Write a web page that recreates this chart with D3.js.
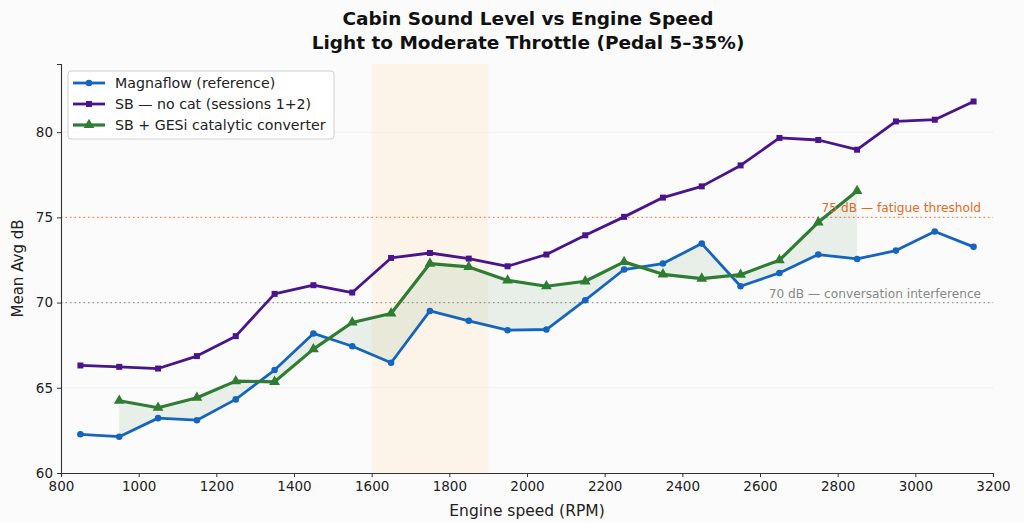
<!DOCTYPE html>
<html>
<head>
<meta charset="utf-8">
<script src="https://cdn.jsdelivr.net/npm/d3@7"></script>
<style>
  body { margin: 0; background: #fbfbfb; }
  svg { display: block; font-family: "DejaVu Sans", sans-serif; }
</style>
</head>
<body>
<div id="chart"></div>
<script>
// engine speed bins (RPM)
const rpmAll = [850, 950, 1050, 1150, 1250, 1350, 1450, 1550, 1650, 1750, 1850, 1950,
    2050, 2150, 2250, 2350, 2450, 2550, 2650, 2750, 2850, 2950, 3050, 3150];
const rpmGesi = [950, 1050, 1150, 1250, 1350, 1450, 1550, 1650, 1750, 1850, 1950,
    2050, 2150, 2250, 2350, 2450, 2550, 2650, 2750, 2850];

const magnaflow = [62.27, 62.13, 63.22, 63.1, 64.32, 66.04, 68.19, 67.44, 66.47, 69.51, 68.93, 68.38,
    68.42, 70.14, 71.94, 72.29, 73.46, 70.96, 71.74, 72.82, 72.56, 73.05, 74.17, 73.27];
const sbNoCat = [66.31, 66.23, 66.13, 66.86, 68.03, 70.51, 71.02, 70.59, 72.62, 72.91, 72.58, 72.13,
    72.82, 73.95, 75.03, 76.16, 76.82, 78.05, 79.66, 79.54, 78.97, 80.63, 80.73, 81.8];
const sbGesi = [64.24, 63.83, 64.42, 65.39, 65.35, 67.27, 68.83, 69.36, 72.29, 72.09, 71.3,
    70.96, 71.25, 72.39, 71.66, 71.41, 71.64, 72.49, 74.71, 76.55];

const xTicks = [800, 1000, 1200, 1400, 1600, 1800, 2000, 2200, 2400, 2600, 2800, 3000, 3200];
const yTicks = [60, 65, 70, 75, 80];
const band = [1600, 1900];
const thresholds = [
    {value: 75, label: "75 dB — fatigue threshold", color: "#e8691e", lineColor: "#f08a4b"},
    {value: 70, label: "70 dB — conversation interference", color: "#888888", lineColor: "#999999"}
];

const W = 1024, H = 523;
const margin = {top: 64, right: 31, bottom: 50, left: 61};
const width = W - margin.left - margin.right;
const height = H - margin.top - margin.bottom;

const svg = d3.select("#chart").append("svg")
    .attr("width", W)
    .attr("height", H);

svg.append("rect").attr("width", W).attr("height", H).attr("fill", "#fbfbfb");

const g = svg.append("g")
    .attr("transform", `translate(${margin.left},${margin.top})`);

const x = d3.scaleLinear().domain([800, 3200]).range([0, width]);
const y = d3.scaleLinear().domain([60, 84]).range([height, 0]);

// light horizontal grid
g.selectAll(".grid")
    .data(yTicks.filter(t => t > 60))
    .enter().append("line")
    .attr("x1", 0).attr("x2", width)
    .attr("y1", d => y(d)).attr("y2", d => y(d))
    .attr("stroke", "#ebebeb")
    .attr("stroke-width", 0.8);

// highlighted rpm band
g.append("rect")
    .attr("x", x(band[0]))
    .attr("y", 0)
    .attr("width", x(band[1]) - x(band[0]))
    .attr("height", height)
    .attr("fill", "#ffe8c8")
    .attr("opacity", 0.35);

// threshold lines
thresholds.forEach(t => {
    g.append("line")
        .attr("x1", 0).attr("x2", width)
        .attr("y1", y(t.value)).attr("y2", y(t.value))
        .attr("stroke", t.lineColor)
        .attr("stroke-width", 1.3)
        .attr("stroke-dasharray", "1.5,3");
});

// fill between GESi and magnaflow
const magByRpm = {};
rpmAll.forEach((r, i) => magByRpm[r] = magnaflow[i]);
const fillData = rpmGesi.map((r, i) => ({x: r, hi: sbGesi[i], lo: magByRpm[r]}));

g.append("path")
    .datum(fillData)
    .attr("d", d3.area().x(d => x(d.x)).y0(d => y(d.lo)).y1(d => y(d.hi)))
    .attr("fill", "#2e7d32")
    .attr("opacity", 0.09);

const line = d3.line().x(d => x(d[0])).y(d => y(d[1]));

const series = [
    {name: "Magnaflow (reference)", xs: rpmAll, ys: magnaflow, color: "#1565c0", width: 2.8, marker: "circle"},
    {name: "SB — no cat (sessions 1+2)", xs: rpmAll, ys: sbNoCat, color: "#4a148c", width: 2.8, marker: "square"},
    {name: "SB + GESi catalytic converter", xs: rpmGesi, ys: sbGesi, color: "#2e7d32", width: 3.2, marker: "triangle"}
];

const symbols = {
    circle: d3.symbol().type(d3.symbolCircle).size(34),
    square: d3.symbol().type(d3.symbolSquare).size(36),
    triangle: d3.symbol().type(d3.symbolTriangle).size(50)
};

series.forEach(s => {
    const pts = s.xs.map((v, i) => [v, s.ys[i]]);
    g.append("path")
        .datum(pts)
        .attr("d", line)
        .attr("fill", "none")
        .attr("stroke", s.color)
        .attr("stroke-width", s.width)
        .attr("stroke-linejoin", "round");

    g.selectAll(null)
        .data(pts)
        .enter().append("path")
        .attr("d", symbols[s.marker])
        .attr("transform", d => `translate(${x(d[0])},${y(d[1])})`)
        .attr("fill", s.color);
});

// threshold labels
thresholds.forEach(t => {
    g.append("text")
        .attr("x", x(3190) - 8)
        .attr("y", y(t.value) - 5)
        .attr("text-anchor", "end")
        .attr("font-size", 12.2)
        .attr("fill", t.color)
        .text(t.label);
});

// axes
const xAxis = g.append("g")
    .attr("transform", `translate(0,${height})`)
    .call(d3.axisBottom(x).tickValues(xTicks).tickFormat(d3.format("d")).tickSize(4).tickPadding(4));
const yAxis = g.append("g")
    .call(d3.axisLeft(y).tickValues(yTicks).tickFormat(d3.format("d")).tickSize(4).tickPadding(4));

[xAxis, yAxis].forEach(a => {
    a.select(".domain").attr("stroke", "#333").attr("stroke-width", 1.1);
    a.selectAll(".tick line").attr("stroke", "#333");
    a.selectAll(".tick text").attr("font-size", 13.5).attr("fill", "#222")
        .attr("font-family", "DejaVu Sans, sans-serif");
});

// axis labels
svg.append("text")
    .attr("x", margin.left + width / 2)
    .attr("y", 516)
    .attr("text-anchor", "middle")
    .attr("font-size", 15.5)
    .attr("fill", "#222")
    .text("Engine speed (RPM)");

svg.append("text")
    .attr("transform", `translate(23,${margin.top + height / 2}) rotate(-90)`)
    .attr("text-anchor", "middle")
    .attr("font-size", 15)
    .attr("fill", "#222")
    .text("Mean Avg dB");

// title
svg.append("text")
    .attr("x", 528).attr("y", 25)
    .attr("text-anchor", "middle")
    .attr("font-size", 18.5).attr("font-weight", "bold").attr("fill", "#111")
    .text("Cabin Sound Level vs Engine Speed");
svg.append("text")
    .attr("x", 528).attr("y", 49)
    .attr("text-anchor", "middle")
    .attr("font-size", 18.5).attr("font-weight", "bold").attr("fill", "#111")
    .text("Light to Moderate Throttle (Pedal 5–35%)");

// legend
const legend = svg.append("g").attr("transform", "translate(68,71)");
legend.append("rect")
    .attr("width", 266).attr("height", 68)
    .attr("rx", 3)
    .attr("fill", "#ffffff").attr("fill-opacity", 0.85)
    .attr("stroke", "#d0d0d0");

series.forEach((s, i) => {
    const ly = 12 + i * 21;
    legend.append("line")
        .attr("x1", 5).attr("x2", 37)
        .attr("y1", ly).attr("y2", ly)
        .attr("stroke", s.color).attr("stroke-width", s.width);
    legend.append("path")
        .attr("d", symbols[s.marker])
        .attr("transform", `translate(21,${ly})`)
        .attr("fill", s.color);
    legend.append("text")
        .attr("x", 47).attr("y", ly + 5)
        .attr("font-size", 14.2)
        .attr("fill", "#222")
        .text(s.name);
});
</script>
</body>
</html>
